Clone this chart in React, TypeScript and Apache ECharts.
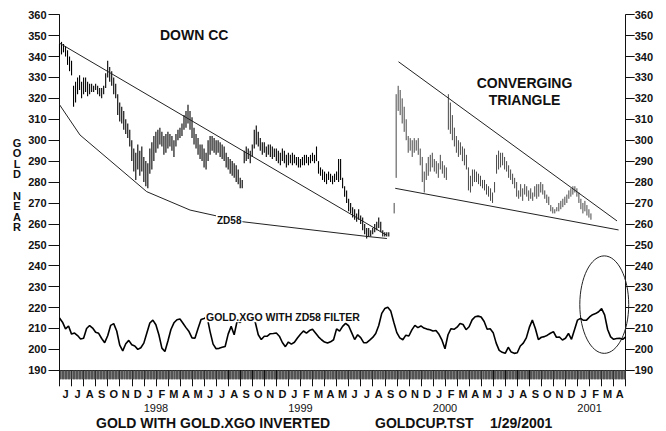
import React, { useEffect, useRef } from 'react';
import * as echarts from 'echarts';

// ---- axis labels ----
const monthLetters = [
  'J', 'J', 'A', 'S', 'O', 'N', 'D',
  'J', 'F', 'M', 'A', 'M', 'J', 'J', 'A', 'S', 'O', 'N', 'D',
  'J', 'F', 'M', 'A', 'M', 'J', 'J', 'A', 'S', 'O', 'N', 'D',
  'J', 'F', 'M', 'A', 'M', 'J', 'J', 'A', 'S', 'O', 'N', 'D',
  'J', 'F', 'M', 'A',
];
const yearLabels = ['1998', '1999', '2000', '2001'];
const yearMonthIndex = [8, 20, 32, 44];

// ---- price bars (month index from June 1997, sampled every 1/6 month) ----
const barStep = 1 / 6;
const seg1Start = 0;
const seg1Low = [
  340, 341, 342, 340, 336, 333, 331, 316, 318, 322, 324, 320, 322, 323, 321, 322, 323, 323, 324, 322,
  321, 320, 322, 325, 330, 328, 326, 322, 320, 312, 309, 308, 305, 303, 301, 297, 290, 285, 281, 286,
  283, 285, 280, 278, 277, 284, 286, 290, 294, 296, 298, 297, 293, 294, 296, 297, 295, 292, 297, 300,
  301, 302, 305, 306, 308, 305, 301, 298, 296, 293, 291, 290, 287, 286, 290, 293, 295, 294, 293, 294,
  292, 291, 290, 287, 286, 284, 283, 282, 280, 279, 277, 277, 289, 290, 291, 289, 292, 296, 298, 297,
  295, 293, 294, 292, 293, 292, 291, 292, 290, 289, 288, 290, 289, 287, 288, 289, 288, 289, 288, 287,
  287, 288, 288, 289, 288, 289, 290, 289, 290, 284, 283, 281, 280, 279, 281, 280, 279, 280, 281, 280,
  281, 277, 273, 270, 266, 265, 263, 262, 261, 262, 260, 257, 255, 253, 254, 254, 255, 256, 257, 258,
  256, 254, 254, 254, 254,
];
const seg1High = [
  346, 347, 346, 345, 343, 340, 338, 326, 328, 330, 331, 328, 330, 330, 328, 327, 327, 326, 327, 326,
  325, 325, 326, 332, 338, 335, 333, 330, 327, 322, 318, 316, 314, 310, 308, 305, 300, 296, 294, 298,
  295, 297, 292, 290, 289, 296, 299, 302, 304, 305, 306, 304, 302, 303, 304, 303, 302, 300, 303, 305,
  306, 308, 312, 314, 317, 314, 311, 306, 303, 301, 298, 298, 296, 294, 300, 302, 302, 301, 300, 300,
  299, 298, 297, 294, 292, 291, 290, 289, 288, 286, 282, 281, 295, 297, 296, 295, 298, 305, 307, 304,
  301, 299, 299, 297, 298, 298, 297, 296, 296, 295, 294, 296, 295, 293, 294, 293, 294, 293, 292, 292,
  291, 292, 293, 293, 292, 293, 294, 293, 297, 290, 287, 286, 285, 284, 285, 284, 283, 284, 285, 291,
  291, 282, 278, 276, 272, 270, 268, 267, 265, 267, 264, 263, 260, 258, 258, 257, 258, 260, 261, 263,
  261, 257, 256, 256, 256,
];
const seg2Start = 27.78;
const seg2Low = [
  265, 282, 314, 312, 308, 304, 300, 294, 295, 292, 294, 295, 293, 288, 280, 275, 281, 283, 285, 287,
  285, 284, 282, 286, 284, 282, 281, 305, 303, 300, 297, 294, 292, 293, 290, 288, 286, 276, 275, 278,
  280, 280, 279, 278, 277, 276, 274, 273, 271, 270, 275, 284, 286, 287, 288, 286, 285, 282, 281, 279,
  277, 273, 272, 273, 271, 274, 273, 271, 272, 271, 273, 272, 273, 275, 274, 272, 270, 269, 266, 265,
  265, 266, 266, 267, 268, 269, 270, 272, 273, 274, 275, 273, 270, 267, 265, 266, 264, 263, 262,
];
const seg2High = [
  270, 322, 326, 324, 320, 316, 310, 302, 301, 300, 301, 300, 301, 296, 292, 285, 289, 292, 293, 294,
  291, 290, 289, 293, 290, 288, 287, 322, 318, 312, 306, 302, 300, 299, 297, 296, 293, 287, 283, 286,
  286, 285, 284, 283, 281, 281, 279, 278, 277, 275, 280, 293, 295, 294, 294, 292, 290, 288, 286, 284,
  282, 280, 276, 279, 277, 279, 278, 276, 277, 275, 278, 279, 279, 280, 279, 276, 274, 273, 269, 268,
  267, 268, 270, 271, 272, 273, 274, 276, 277, 278, 278, 277, 275, 272, 270, 271, 269, 267, 265,
];

// ---- GOLD.XGO oscillator (every 1/4 month) ----
const oscStart = 0;
const oscStep = 0.25;
const oscValues = [
  215, 213, 209.8, 211.2, 207.3, 207.8, 206.6, 205, 205.3, 210, 211.4, 210.2, 208.2, 207.7, 205.2, 203.2,
  206.5, 211.5, 212.3, 208.8, 202, 199.3, 202.7, 204.3, 202.2, 201.6, 200, 200.8, 203, 207.8, 212.6, 214,
  211.8, 207, 200.6, 199, 204, 209.5, 212.7, 214.2, 214.5, 212.5, 210.4, 208.5, 205.5, 205.4, 210, 214.3,
  214.8, 215.5, 208.5, 202.5, 200.3, 200.5, 201, 201.4, 207.3, 211, 207, 213.7, 212.8, 214.6, 215.5, 215.3,
  214.8, 213, 207, 204.7, 206.3, 206.3, 207.5, 207.6, 207.8, 206.3, 203.3, 201.3, 203.5, 202.5, 203.4, 205.4,
  207.2, 208.8, 207.8, 209, 209.6, 207.8, 206, 204.6, 203.5, 203, 203.6, 204.6, 209.8, 208.7, 211, 212.4,
  211.3, 208, 204.7, 207, 205.6, 203.2, 203.2, 204.4, 205.7, 207.6, 211.4, 217.2, 219.5, 220.1, 218.3, 213,
  208, 205.5, 204.6, 206.8, 206.4, 209.3, 211.5, 210.4, 211.2, 210.2, 209.7, 209.4, 208.8, 209, 207.2, 204.4,
  200.3, 207, 209.9, 209.6, 210.6, 212.4, 211.9, 209.4, 210.8, 214.1, 215.6, 215.9, 215.5, 213.3, 209.6, 209.9,
  208, 203, 199.5, 198.6, 198.1, 201, 198.7, 198.1, 198.4, 201.6, 203, 205.5, 210.5, 214, 210, 204.7,
  205.8, 206.1, 206.8, 207.7, 208.5, 205.8, 205.9, 204.5, 205.3, 207.6, 204.8, 209.4, 214, 214.8, 213.9, 214,
  215.5, 216.6, 217.1, 218, 219.5, 216.5, 209.5, 206, 204.8, 205.2, 205.3, 204.8, 206,
];

// ---- trend lines ----
const downCcT = [0, 27.18];
const downCcV = [346.4, 254.5];
const zd58T = [0, 1.7, 7.24, 10.84, 15.24, 25.51, 27.18];
const zd58V = [317, 302.5, 275.4, 266.6, 261, 254, 253];
const convUpperT = [28.14, 46.28];
const convUpperV = [337.5, 261.4];
const convLowerT = [27.87, 46.41];
const convLowerV = [277, 257.1];

// ---- ellipse annotation: [centre month, centre value, radius months, radius value] ----
const ellipseSpec = [45.22, 221.4, 2.03, 23.3];

const FONT = '"Liberation Sans", Arial, Helvetica, sans-serif';
const INK = '#111';

function pairs(t: number[], v: number[]) {
  return t.map((x, i) => [x, v[i]]);
}

function barsData(start: number, low: number[], high: number[]) {
  return low.map((lo, i) => [start + i * barStep, lo, high[i]]);
}

function barRenderer(color: string, width: number) {
  return (params: any, api: any) => {
    const top = api.coord([api.value(0), api.value(2)]);
    const bot = api.coord([api.value(0), api.value(1)]);
    return {
      type: 'line',
      shape: { x1: top[0], y1: top[1], x2: bot[0], y2: bot[1] },
      style: { stroke: color, lineWidth: width },
    };
  };
}

function lineSeries(data: number[][], width: number, color: string) {
  return {
    type: 'line',
    data,
    xAxisIndex: 0,
    yAxisIndex: 0,
    symbol: 'none',
    lineStyle: { color, width },
    silent: true,
  };
}

function txt(text: string, x: number, y: number, size: number, opts: any = {}) {
  return {
    type: 'text',
    x,
    y,
    z: 100,
    silent: true,
    style: {
      text,
      font: `bold ${size}px ${FONT}`,
      fill: INK,
      textAlign: opts.align || 'left',
      align: opts.align || 'left',
      textVerticalAlign: opts.valign || 'middle',
      verticalAlign: opts.valign || 'middle',
      lineHeight: opts.lineHeight,
      backgroundColor: opts.bg,
      padding: opts.bg ? [0, 1] : undefined,
    },
  };
}

export default function App() {
  const ref = useRef<HTMLDivElement>(null);

  useEffect(() => {
    if (!ref.current) return;
    const chart = echarts.init(ref.current, undefined, { renderer: 'svg' });

    const yAxisBase = (pos: 'left' | 'right', tickLen: number, margin: number) => ({
      type: 'value',
      position: pos,
      min: 190,
      max: 360,
      interval: 10,
      axisLine: { show: true, lineStyle: { color: INK, width: 1 } },
      axisTick: { show: true, length: tickLen, lineStyle: { color: INK, width: 1 } },
      splitLine: { show: false },
      axisLabel: {
        margin,
        color: INK,
        fontSize: 11,
        fontWeight: 'bold',
        fontFamily: FONT,
      },
    });

    const option: any = {
      animation: false,
      backgroundColor: '#ffffff',
      grid: { left: 59.5, right: 40.3, top: 14.7, bottom: 60.7, containLabel: false },
      xAxis: [
        {
          type: 'value',
          min: 0,
          max: 47,
          interval: 1,
          position: 'bottom',
          axisLine: { show: true, lineStyle: { color: INK, width: 1 } },
          axisTick: { show: true, length: 16, lineStyle: { color: INK, width: 1 } },
          minorTick: { show: true, splitNumber: 20, length: 9, lineStyle: { color: '#444', width: 0.7 } },
          splitLine: { show: false },
          minorSplitLine: { show: false },
          axisLabel: {
            margin: 32,
            color: INK,
            fontSize: 11,
            fontFamily: FONT,
            showMinLabel: true,
            showMaxLabel: true,
            formatter: (v: number) => {
              const i = yearMonthIndex.indexOf(Math.round(v));
              return i >= 0 ? yearLabels[i] : '';
            },
          },
        },
        {
          type: 'category',
          data: monthLetters,
          position: 'bottom',
          boundaryGap: true,
          axisLine: { show: false },
          axisTick: { show: false },
          splitLine: { show: false },
          axisLabel: {
            interval: 0,
            margin: 18,
            color: INK,
            fontSize: 11,
            fontWeight: 'bold',
            fontFamily: FONT,
          },
        },
      ],
      yAxis: [yAxisBase('left', 11, 13), yAxisBase('right', 9, 9)],
      series: [
        {
          type: 'custom',
          data: barsData(seg1Start, seg1Low, seg1High),
          encode: { x: 0, y: [1, 2] },
          renderItem: barRenderer('#000', 1.1),
          silent: true,
          clip: false,
        },
        {
          type: 'custom',
          data: barsData(seg2Start, seg2Low, seg2High),
          encode: { x: 0, y: [1, 2] },
          renderItem: barRenderer('#333', 0.9),
          silent: true,
          clip: false,
        },
        lineSeries(pairs(downCcT, downCcV), 1, '#222'),
        lineSeries(pairs(zd58T, zd58V), 1, '#222'),
        lineSeries(pairs(convUpperT, convUpperV), 1, '#222'),
        lineSeries(pairs(convLowerT, convLowerV), 1, '#222'),
        lineSeries(oscValues.map((v, i) => [oscStart + i * oscStep, v]), 1.6, '#000'),
        {
          type: 'custom',
          data: [ellipseSpec],
          encode: { x: 0, y: 1 },
          clip: false,
          silent: true,
          renderItem: (params: any, api: any) => {
            const c = api.coord([api.value(0), api.value(1)]);
            const s = api.size([api.value(2), api.value(3)]);
            return {
              type: 'ellipse',
              shape: { cx: c[0], cy: c[1], rx: s[0], ry: s[1] },
              style: { fill: 'none', stroke: '#222', lineWidth: 1 },
            };
          },
        },
      ],
      graphic: [
        txt('DOWN CC', 160, 35, 14),
        txt('CONVERGING\nTRIANGLE', 524.5, 91.7, 14, { align: 'center', lineHeight: 17 }),
        txt('ZD58', 216, 220, 10, { bg: '#ffffff' }),
        txt('GOLD.XGO WITH ZD58 FILTER', 205, 316.7, 10.5, { bg: '#ffffff' }),
        txt('G\nO\nL\nD\n\nN\nE\nA\nR', 17, 137.4, 11, { align: 'center', valign: 'top', lineHeight: 10.6 }),
        txt('GOLD WITH GOLD.XGO INVERTED', 96, 422.7, 14),
        txt('GOLDCUP.TST', 375, 422.7, 14),
        txt('1/29/2001', 490, 422.7, 14),
      ],
    };

    chart.setOption(option);
    return () => chart.dispose();
  }, []);

  return (
    <div
      ref={ref}
      style={{ position: 'fixed', left: 0, top: 0, width: 666, height: 431, background: '#fff' }}
    />
  );
}
